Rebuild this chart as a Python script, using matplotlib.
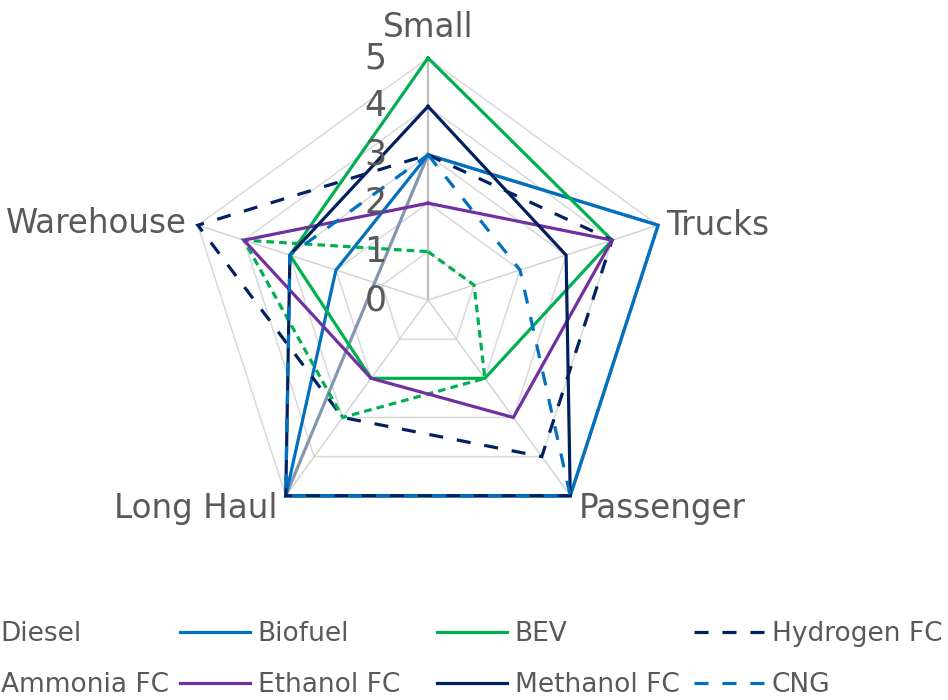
import numpy as np
import matplotlib.pyplot as plt
from matplotlib.lines import Line2D

# data
categories = ["Small", "Trucks", "Passenger", "Long Haul", "Warehouse"]
series = ["Diesel", "Biofuel", "BEV", "Hydrogen FC",
          "Ammonia FC", "Ethanol FC", "Methanol FC", "CNG"]
diesel = [3, 5, 5, 5, np.nan]
biofuel = [3, 5, 5, 5, 2]
bev = [5, 4, 2, 2, 3]
hydrogen_fc = [3, 4, 4, 3, 5]
ammonia_fc = [1, 1, 2, 3, 4]
ethanol_fc = [2, 4, 3, 2, 4]
methanol_fc = [4, 3, 5, 5, 3]
cng = [3, 2, 5, 5, 3]
ticks = [0, 1, 2, 3, 4, 5]

values = [diesel, biofuel, bev, hydrogen_fc, ammonia_fc, ethanol_fc, methanol_fc, cng]
colors = ["#8497B0", "#0070C0", "#00B050", "#002060",
          "#00B050", "#7030A0", "#002060", "#0070C0"]
long_dash = (0, (4.4, 4.35))
short_dash = (0, (2.4, 1.6))
styles = ["-", "-", "-", long_dash, short_dash, "-", "-", long_dash]
LW = 2.3
TXT = "#595959"

plt.rcParams["font.family"] = ["DejaVu Sans"]

fig = plt.figure(figsize=(9.48, 7), dpi=100)
ax = fig.add_axes([186 / 948, 158 / 700, 484 / 948, 484 / 700], projection="polar")
ax.set_theta_offset(np.pi / 2)
ax.set_theta_direction(-1)
ax.set_ylim(0, 5)
ax.grid(False)
ax.spines["polar"].set_visible(False)
ax.set_xticks([])
ax.set_yticks([])

theta = np.linspace(0, 2 * np.pi, len(categories), endpoint=False)
closed = np.append(theta, theta[0])

# pentagon gridlines
for t in ticks[1:]:
    ax.plot(closed, [t] * len(closed), color="#D9D9D9", lw=1.1, clip_on=False, zorder=1)
# spokes
for i, th in enumerate(theta):
    ax.plot([th, th], [0, 5], color="#BFBFBF" if i == 0 else "#D0D0D0",
            lw=1.6 if i == 0 else 1.0, clip_on=False, zorder=1)

# series
for name, v, c, ls in zip(series, values, colors, styles):
    v = np.asarray(v, dtype=float)
    ok = ~np.isnan(v)
    th = np.append(theta[ok], theta[ok][0])
    r = np.append(v[ok], v[ok][0])
    ax.plot(th, r, color=c, ls=ls, lw=LW, clip_on=False, zorder=3,
            solid_joinstyle="miter", dash_joinstyle="miter")

# value labels along the first axis
for t in ticks:
    ax.annotate(str(t), xy=(0, t), xytext=(-30, 0), textcoords="offset points",
                ha="right", va="center", fontsize=25, color=TXT)

# category labels
offsets = [(0, 22, "center", "center"), (6, 0, "left", "center"),
           (6, -9, "left", "center"), (-6, -9, "right", "center"),
           (-8, 1, "right", "center")]
for th, lab, (dx, dy, ha, va) in zip(theta, categories, offsets):
    ax.annotate(lab, xy=(th, 5), xytext=(dx, dy), textcoords="offset points",
                ha=ha, va=va, fontsize=23.5, color=TXT)

# legend: 4 columns, 2 rows, leftmost column partly off the canvas
handles = [Line2D([], [], color=c, ls=ls, lw=LW) for c, ls in zip(colors, styles)]
for col in range(4):
    idx = [col, col + 4]
    x0 = (-77 + 257 * col) / 948
    fig.legend([handles[i] for i in idx], [series[i] for i in idx],
               loc="upper left", bbox_to_anchor=(x0, 1 - 621 / 700),
               frameon=False, fontsize=19, labelcolor=TXT,
               handlelength=2.65, handletextpad=0.3, borderpad=0,
               borderaxespad=0, labelspacing=0.95)

fig.savefig("out.png", dpi=100)
